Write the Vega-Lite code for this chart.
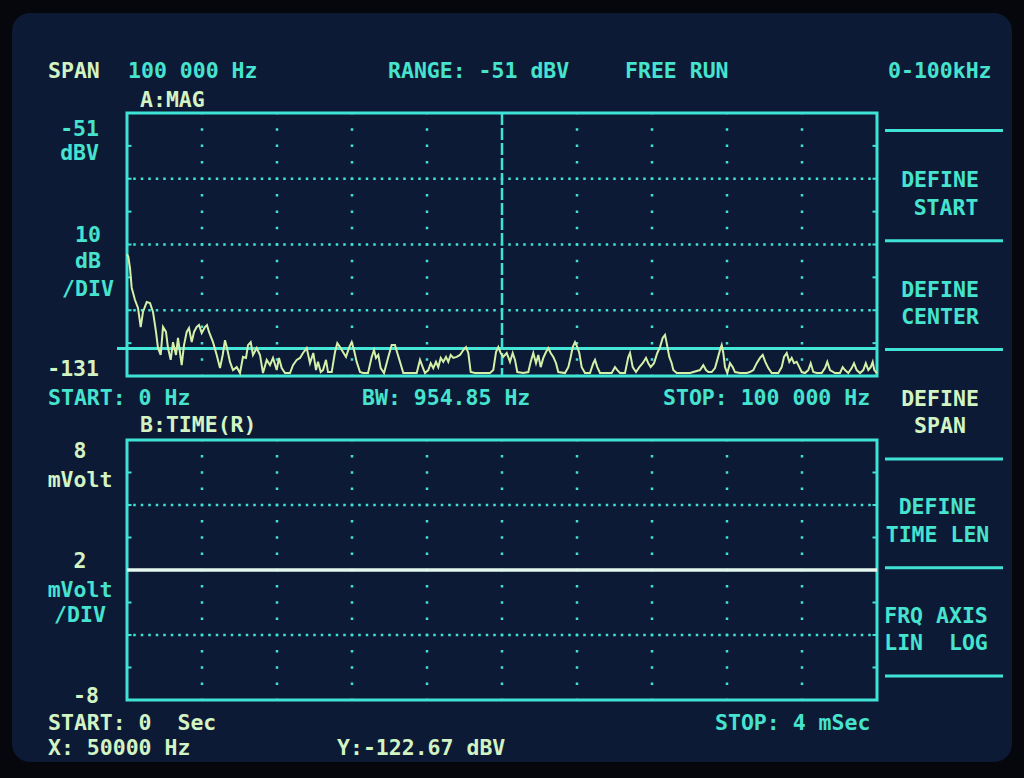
{
  "$schema": "https://vega.github.io/schema/vega-lite/v6.json",
  "width": 1024,
  "height": 778,
  "autosize": {"type": "fit", "contains": "padding"},
  "padding": 0,
  "background": "#05070c",
  "config": {"view": {"stroke": null}, "text": {"font": "DejaVu Sans Mono", "fontWeight": "bold", "fontSize": 21.5, "baseline": "alphabetic"}},
  "resolve": {"scale": {"x": "independent", "y": "independent"}},
  "layer": [
    {
      "layer": [
        {
          "data": {"values": [{}]},
          "mark": {"type": "rect", "fill": "#0d1a35", "cornerRadius": 18},
          "encoding": {
            "x": {"datum": -15333, "type": "quantitative", "scale": {"domain": [-16933.33, 119600], "nice": false, "zero": false}, "axis": null},
            "x2": {"datum": 118000},
            "y": {"datum": -20.58, "type": "quantitative", "scale": {"domain": [-253.28, -16.63], "nice": false, "zero": false}, "axis": null},
            "y2": {"datum": -248.41}
          }
        },
        {
          "data": {"values": [{"dB": -71}, {"dB": -91}, {"dB": -111}]},
          "mark": {"type": "rule", "color": "#3fe3d6", "strokeWidth": 2.5, "strokeDash": [2.5, 5], "strokeDashOffset": 1.25, "strokeCap": "butt"},
          "encoding": {
            "x": {"datum": 0, "type": "quantitative", "scale": {"domain": [-16933.33, 119600], "nice": false, "zero": false}, "axis": null},
            "x2": {"datum": 100000},
            "y": {"field": "dB", "type": "quantitative", "scale": {"domain": [-253.28, -16.63], "nice": false, "zero": false}, "axis": null}
          }
        },
        {
          "data": {"values": [{"f": 10000}, {"f": 20000}, {"f": 30000}, {"f": 40000}, {"f": 60000}, {"f": 70000}, {"f": 80000}, {"f": 90000}]},
          "mark": {"type": "rule", "color": "#3fe3d6", "strokeWidth": 2.5, "strokeDash": [2.5, 13.94], "strokeDashOffset": 1.25, "strokeCap": "butt"},
          "encoding": {
            "x": {"field": "f", "type": "quantitative", "scale": {"domain": [-16933.33, 119600], "nice": false, "zero": false}, "axis": null},
            "y": {"datum": -51, "type": "quantitative", "scale": {"domain": [-253.28, -16.63], "nice": false, "zero": false}, "axis": null},
            "y2": {"datum": -131}
          }
        },
        {
          "data": {"values": [{}]},
          "mark": {"type": "rule", "color": "#3fe3d6", "strokeWidth": 2.5, "strokeDash": [12, 3]},
          "encoding": {
            "x": {"datum": 50000, "type": "quantitative", "scale": {"domain": [-16933.33, 119600], "nice": false, "zero": false}, "axis": null},
            "y": {"datum": -51, "type": "quantitative", "scale": {"domain": [-253.28, -16.63], "nice": false, "zero": false}, "axis": null},
            "y2": {"datum": -131}
          }
        },
        {
          "data": {"values": [{"dB": -61}, {"dB": -71}, {"dB": -81}, {"dB": -91}, {"dB": -101}, {"dB": -111}, {"dB": -121}]},
          "mark": {"type": "rule", "color": "#3fe3d6", "strokeWidth": 2},
          "encoding": {
            "x": {"datum": 0, "type": "quantitative", "scale": {"domain": [-16933.33, 119600], "nice": false, "zero": false}, "axis": null},
            "x2": {"datum": 600},
            "y": {"field": "dB", "type": "quantitative", "scale": {"domain": [-253.28, -16.63], "nice": false, "zero": false}, "axis": null}
          }
        },
        {
          "data": {"values": [{"dB": -61}, {"dB": -71}, {"dB": -81}, {"dB": -91}, {"dB": -101}, {"dB": -111}, {"dB": -121}]},
          "mark": {"type": "rule", "color": "#3fe3d6", "strokeWidth": 2},
          "encoding": {
            "x": {"datum": 99400, "type": "quantitative", "scale": {"domain": [-16933.33, 119600], "nice": false, "zero": false}, "axis": null},
            "x2": {"datum": 100000},
            "y": {"field": "dB", "type": "quantitative", "scale": {"domain": [-253.28, -16.63], "nice": false, "zero": false}, "axis": null}
          }
        },
        {
          "data": {"values": [{}]},
          "mark": {"type": "rect", "fill": null, "stroke": "#3fe3d6", "strokeWidth": 3},
          "encoding": {
            "x": {"datum": 0, "type": "quantitative", "scale": {"domain": [-16933.33, 119600], "nice": false, "zero": false}, "axis": null},
            "x2": {"datum": 100000},
            "y": {"datum": -51, "type": "quantitative", "scale": {"domain": [-253.28, -16.63], "nice": false, "zero": false}, "axis": null},
            "y2": {"datum": -131}
          }
        },
        {
          "data": {"values": [{}]},
          "mark": {"type": "rule", "color": "#44e6d8", "strokeWidth": 3},
          "encoding": {
            "x": {"datum": -1333, "type": "quantitative", "scale": {"domain": [-16933.33, 119600], "nice": false, "zero": false}, "axis": null},
            "x2": {"datum": 100000},
            "y": {"datum": -122.67, "type": "quantitative", "scale": {"domain": [-253.28, -16.63], "nice": false, "zero": false}, "axis": null}
          }
        },
        {
          "data": {"values": [
            {"f": 0, "dB": -94.0}, {"f": 173, "dB": -94.7}, {"f": 400, "dB": -98.2}, {"f": 627, "dB": -104.2}, {"f": 1067, "dB": -107.9}, {"f": 1467, "dB": -110.3}, {"f": 1827, "dB": -116.1}, {"f": 2133, "dB": -111.5}, {"f": 2627, "dB": -108.5}, {"f": 3067, "dB": -108.8}, {"f": 3467, "dB": -111.5}, {"f": 3867, "dB": -117.6}, {"f": 4133, "dB": -122.5}, {"f": 4493, "dB": -124.6}, {"f": 4800, "dB": -116.1}, {"f": 5200, "dB": -117.6}, {"f": 5467, "dB": -122.5}, {"f": 5827, "dB": -126.1}, {"f": 6133, "dB": -120.7}, {"f": 6533, "dB": -124.6}, {"f": 6800, "dB": -119.4}, {"f": 7293, "dB": -127.7}, {"f": 7600, "dB": -121.6}, {"f": 7960, "dB": -117.6}, {"f": 8267, "dB": -116.4}, {"f": 8627, "dB": -120.7}, {"f": 8933, "dB": -117.6}, {"f": 9293, "dB": -116.1}, {"f": 9600, "dB": -115.5}, {"f": 9960, "dB": -117.9}, {"f": 10400, "dB": -116.1}, {"f": 10667, "dB": -115.5}, {"f": 10933, "dB": -117.6}, {"f": 11467, "dB": -120.7}, {"f": 11960, "dB": -124.6}, {"f": 12400, "dB": -128.6}, {"f": 12760, "dB": -124.6}, {"f": 13067, "dB": -120.1}, {"f": 13333, "dB": -122.5}, {"f": 13733, "dB": -126.7}, {"f": 14133, "dB": -129.2}, {"f": 14627, "dB": -128.3}, {"f": 15067, "dB": -130.1}, {"f": 15467, "dB": -125.2}, {"f": 15867, "dB": -125.5}, {"f": 16133, "dB": -121.6}, {"f": 16493, "dB": -120.7}, {"f": 16800, "dB": -124.6}, {"f": 17293, "dB": -122.5}, {"f": 17733, "dB": -124.6}, {"f": 18133, "dB": -130.1}, {"f": 18627, "dB": -126.1}, {"f": 19067, "dB": -127.7}, {"f": 19467, "dB": -125.5}, {"f": 19960, "dB": -129.2}, {"f": 20267, "dB": -125.5}, {"f": 20627, "dB": -128.6}, {"f": 21067, "dB": -130.1}, {"f": 21733, "dB": -130.1}, {"f": 22133, "dB": -127.7}, {"f": 22627, "dB": -126.1}, {"f": 23067, "dB": -125.5}, {"f": 23467, "dB": -124.0}, {"f": 23960, "dB": -122.5},
            {"f": 24400, "dB": -127.1}, {"f": 24840, "dB": -124.0}, {"f": 25200, "dB": -129.2}, {"f": 25467, "dB": -126.7}, {"f": 25827, "dB": -129.8}, {"f": 26133, "dB": -129.2}, {"f": 26533, "dB": -126.1}, {"f": 26800, "dB": -129.8}, {"f": 27293, "dB": -129.8}, {"f": 27733, "dB": -123.7}, {"f": 28040, "dB": -121.0}, {"f": 28400, "dB": -122.2}, {"f": 28800, "dB": -123.7}, {"f": 29200, "dB": -125.2}, {"f": 29640, "dB": -122.2}, {"f": 29960, "dB": -120.7}, {"f": 30267, "dB": -123.1}, {"f": 30627, "dB": -126.7}, {"f": 31067, "dB": -129.8}, {"f": 31467, "dB": -130.1}, {"f": 32133, "dB": -130.1}, {"f": 32627, "dB": -125.2}, {"f": 32933, "dB": -123.1}, {"f": 33200, "dB": -125.5}, {"f": 33507, "dB": -124.6}, {"f": 33827, "dB": -128.6}, {"f": 34267, "dB": -130.1}, {"f": 34840, "dB": -125.2}, {"f": 35293, "dB": -121.6}, {"f": 35733, "dB": -121.6}, {"f": 36040, "dB": -124.0}, {"f": 36400, "dB": -126.7}, {"f": 36840, "dB": -130.1}, {"f": 37733, "dB": -130.1}, {"f": 38627, "dB": -130.1}, {"f": 39067, "dB": -126.1}, {"f": 39427, "dB": -128.3}, {"f": 39733, "dB": -130.1}, {"f": 40173, "dB": -129.2}, {"f": 40493, "dB": -127.1}, {"f": 40840, "dB": -128.6}, {"f": 41200, "dB": -126.7}, {"f": 41507, "dB": -128.3}, {"f": 41827, "dB": -125.5}, {"f": 42173, "dB": -126.7}, {"f": 42533, "dB": -125.2}, {"f": 42840, "dB": -126.7}, {"f": 43160, "dB": -124.6}, {"f": 43507, "dB": -125.5}, {"f": 43960, "dB": -125.2}, {"f": 44400, "dB": -124.6}, {"f": 44840, "dB": -123.1}, {"f": 45200, "dB": -122.2}, {"f": 45507, "dB": -124.0}, {"f": 45827, "dB": -129.8}, {"f": 46400, "dB": -130.1}, {"f": 47507, "dB": -130.1}, {"f": 48400, "dB": -130.1}, {"f": 48840, "dB": -129.2}, {"f": 49200, "dB": -123.7}, {"f": 49507, "dB": -122.2}, {"f": 49827, "dB": -124.0}, {"f": 50173, "dB": -125.2}, {"f": 50627, "dB": -124.0}, {"f": 51067, "dB": -126.7},
            {"f": 51427, "dB": -124.0}, {"f": 51733, "dB": -126.1}, {"f": 52040, "dB": -129.8}, {"f": 52840, "dB": -130.1}, {"f": 53507, "dB": -129.8}, {"f": 53827, "dB": -126.7}, {"f": 54173, "dB": -124.0}, {"f": 54533, "dB": -127.1}, {"f": 54840, "dB": -124.6}, {"f": 55160, "dB": -128.3}, {"f": 55507, "dB": -125.5}, {"f": 55867, "dB": -123.7}, {"f": 56173, "dB": -122.5}, {"f": 56493, "dB": -124.0}, {"f": 56840, "dB": -125.2}, {"f": 57200, "dB": -127.1}, {"f": 57507, "dB": -129.8}, {"f": 58400, "dB": -130.1}, {"f": 58840, "dB": -128.3}, {"f": 59160, "dB": -125.2}, {"f": 59427, "dB": -122.2}, {"f": 59733, "dB": -120.7}, {"f": 60040, "dB": -122.2}, {"f": 60307, "dB": -124.0}, {"f": 60627, "dB": -128.3}, {"f": 61067, "dB": -130.1}, {"f": 61733, "dB": -130.1}, {"f": 62173, "dB": -127.1}, {"f": 62400, "dB": -126.1}, {"f": 62707, "dB": -128.3}, {"f": 63067, "dB": -130.1}, {"f": 64627, "dB": -130.1}, {"f": 65067, "dB": -128.3}, {"f": 65373, "dB": -129.2}, {"f": 65733, "dB": -130.1}, {"f": 66400, "dB": -130.1}, {"f": 66840, "dB": -125.2}, {"f": 67067, "dB": -124.0}, {"f": 67427, "dB": -128.3}, {"f": 67867, "dB": -129.8}, {"f": 68307, "dB": -128.3}, {"f": 68760, "dB": -127.1}, {"f": 69200, "dB": -125.5}, {"f": 69507, "dB": -127.1}, {"f": 69827, "dB": -128.3}, {"f": 70267, "dB": -127.1}, {"f": 70707, "dB": -124.0}, {"f": 71067, "dB": -122.2}, {"f": 71427, "dB": -119.4}, {"f": 71733, "dB": -118.5}, {"f": 71960, "dB": -121.0}, {"f": 72307, "dB": -125.2}, {"f": 72627, "dB": -127.1}, {"f": 72840, "dB": -129.2}, {"f": 73293, "dB": -130.1},
            {"f": 75067, "dB": -130.1}, {"f": 76400, "dB": -129.2}, {"f": 76840, "dB": -127.7}, {"f": 77200, "dB": -129.2}, {"f": 77507, "dB": -129.8}, {"f": 77960, "dB": -129.8}, {"f": 78400, "dB": -128.6}, {"f": 78707, "dB": -126.1}, {"f": 79067, "dB": -123.1}, {"f": 79293, "dB": -121.6}, {"f": 79507, "dB": -124.0}, {"f": 79733, "dB": -128.3}, {"f": 80040, "dB": -130.1}, {"f": 80400, "dB": -127.1}, {"f": 80760, "dB": -128.3}, {"f": 81067, "dB": -129.8}, {"f": 81733, "dB": -130.1}, {"f": 82627, "dB": -130.1}, {"f": 83067, "dB": -129.8}, {"f": 83507, "dB": -129.2}, {"f": 83960, "dB": -127.1}, {"f": 84400, "dB": -125.5}, {"f": 84760, "dB": -124.6}, {"f": 85107, "dB": -126.7}, {"f": 85507, "dB": -128.6}, {"f": 85960, "dB": -130.1}, {"f": 86840, "dB": -130.1}, {"f": 87293, "dB": -128.3}, {"f": 87600, "dB": -125.2}, {"f": 87960, "dB": -124.0}, {"f": 88307, "dB": -126.7}, {"f": 88627, "dB": -125.5}, {"f": 88933, "dB": -127.1}, {"f": 89293, "dB": -126.7}, {"f": 89640, "dB": -128.3}, {"f": 89960, "dB": -129.8}, {"f": 90400, "dB": -130.1}, {"f": 90840, "dB": -129.2}, {"f": 91160, "dB": -127.1}, {"f": 91507, "dB": -129.8}, {"f": 91960, "dB": -130.1}, {"f": 92627, "dB": -130.1}, {"f": 93067, "dB": -128.6}, {"f": 93373, "dB": -126.7}, {"f": 93733, "dB": -129.2}, {"f": 94400, "dB": -130.1}, {"f": 95067, "dB": -130.1}, {"f": 95427, "dB": -128.3}, {"f": 95733, "dB": -129.2}, {"f": 96173, "dB": -130.1}, {"f": 96627, "dB": -128.6}, {"f": 96933, "dB": -127.1}, {"f": 97293, "dB": -129.2}, {"f": 97733, "dB": -130.1}, {"f": 98173, "dB": -129.2}, {"f": 98507, "dB": -127.1}, {"f": 98840, "dB": -129.2}, {"f": 99160, "dB": -128.3}, {"f": 99427, "dB": -126.7}, {"f": 99640, "dB": -129.2}, {"f": 100000, "dB": -130.1}
          ]},
          "mark": {"type": "line", "color": "#d4f0a8", "strokeWidth": 2},
          "encoding": {
            "x": {"field": "f", "type": "quantitative", "scale": {"domain": [-16933.33, 119600], "nice": false, "zero": false}, "axis": null},
            "y": {"field": "dB", "type": "quantitative", "scale": {"domain": [-253.28, -16.63], "nice": false, "zero": false}, "axis": null}
          }
        },
        {
          "data": {"values": [{"dB": -56.35}, {"dB": -89.87}, {"dB": -122.94}, {"dB": -156.25}, {"dB": -189.31}, {"dB": -222.25}]},
          "mark": {"type": "rule", "color": "#3fe3d6", "strokeWidth": 3},
          "encoding": {
            "x": {"datum": 101067, "type": "quantitative", "scale": {"domain": [-16933.33, 119600], "nice": false, "zero": false}, "axis": null},
            "x2": {"datum": 116800},
            "y": {"field": "dB", "type": "quantitative", "scale": {"domain": [-253.28, -16.63], "nice": false, "zero": false}, "axis": null}
          }
        },
        {
          "data": {"values": [
            {"s": "100 000 Hz", "f": 133, "dB": -40.35},
            {"s": "RANGE: -51 dBV", "f": 34800, "dB": -40.35},
            {"s": "FREE RUN", "f": 66400, "dB": -40.35},
            {"s": "0-100kHz", "f": 101467, "dB": -40.35},
            {"s": "START: 0 Hz", "f": -10533, "dB": -139.82},
            {"s": "BW: 954.85 Hz", "f": 31333, "dB": -139.82},
            {"s": "STOP: 100 000 Hz", "f": 71467, "dB": -139.82}
          ]},
          "mark": {"type": "text", "align": "left", "color": "#46e3cf"},
          "encoding": {
            "x": {"field": "f", "type": "quantitative", "scale": {"domain": [-16933.33, 119600], "nice": false, "zero": false}, "axis": null},
            "y": {"field": "dB", "type": "quantitative", "scale": {"domain": [-253.28, -16.63], "nice": false, "zero": false}, "axis": null},
            "text": {"field": "s"}
          }
        },
        {
          "data": {"values": [
            {"s": "SPAN", "f": -10533, "dB": -40.35},
            {"s": "A:MAG", "f": 1733, "dB": -49.17}
          ]},
          "mark": {"type": "text", "align": "left", "color": "#d2f3c4"},
          "encoding": {
            "x": {"field": "f", "type": "quantitative", "scale": {"domain": [-16933.33, 119600], "nice": false, "zero": false}, "axis": null},
            "y": {"field": "dB", "type": "quantitative", "scale": {"domain": [-253.28, -16.63], "nice": false, "zero": false}, "axis": null},
            "text": {"field": "s"}
          }
        },
        {
          "data": {"values": [
            {"s": "-51", "f": -3733, "dB": -58.0},
            {"s": "dBV", "f": -3733, "dB": -65.3}
          ]},
          "mark": {"type": "text", "align": "right", "color": "#46e3cf"},
          "encoding": {
            "x": {"field": "f", "type": "quantitative", "scale": {"domain": [-16933.33, 119600], "nice": false, "zero": false}, "axis": null},
            "y": {"field": "dB", "type": "quantitative", "scale": {"domain": [-253.28, -16.63], "nice": false, "zero": false}, "axis": null},
            "text": {"field": "s"}
          }
        },
        {
          "data": {"values": [
            {"s": "-131", "f": -3733, "dB": -131.0}
          ]},
          "mark": {"type": "text", "align": "right", "color": "#d2f3c4"},
          "encoding": {
            "x": {"field": "f", "type": "quantitative", "scale": {"domain": [-16933.33, 119600], "nice": false, "zero": false}, "axis": null},
            "y": {"field": "dB", "type": "quantitative", "scale": {"domain": [-253.28, -16.63], "nice": false, "zero": false}, "axis": null},
            "text": {"field": "s"}
          }
        },
        {
          "data": {"values": [
            {"s": "10", "f": -5200, "dB": -90.24},
            {"s": "dB", "f": -5200, "dB": -98.15},
            {"s": "/DIV", "f": -5200, "dB": -106.67},
            {"s": "DEFINE", "f": 108400, "dB": -73.51},
            {"s": "START", "f": 109200, "dB": -82.03},
            {"s": "DEFINE", "f": 108400, "dB": -106.97},
            {"s": "CENTER", "f": 108400, "dB": -115.18},
            {"s": "DEFINE", "f": 108067, "dB": -172.98},
            {"s": "TIME LEN", "f": 108067, "dB": -181.49},
            {"s": "FRQ AXIS", "f": 107867, "dB": -206.13},
            {"s": "LIN\u00a0\u00a0LOG", "f": 107867, "dB": -214.34}
          ]},
          "mark": {"type": "text", "align": "center", "color": "#46e3cf"},
          "encoding": {
            "x": {"field": "f", "type": "quantitative", "scale": {"domain": [-16933.33, 119600], "nice": false, "zero": false}, "axis": null},
            "y": {"field": "dB", "type": "quantitative", "scale": {"domain": [-253.28, -16.63], "nice": false, "zero": false}, "axis": null},
            "text": {"field": "s"}
          }
        },
        {
          "data": {"values": [
            {"s": "DEFINE", "f": 108400, "dB": -140.12},
            {"s": "SPAN", "f": 108400, "dB": -148.34}
          ]},
          "mark": {"type": "text", "align": "center", "color": "#d2f3c4"},
          "encoding": {
            "x": {"field": "f", "type": "quantitative", "scale": {"domain": [-16933.33, 119600], "nice": false, "zero": false}, "axis": null},
            "y": {"field": "dB", "type": "quantitative", "scale": {"domain": [-253.28, -16.63], "nice": false, "zero": false}, "axis": null},
            "text": {"field": "s"}
          }
        }
      ]
    },
    {
      "layer": [
        {
          "data": {"values": [{"mV": 4}, {"mV": -4}]},
          "mark": {"type": "rule", "color": "#3fe3d6", "strokeWidth": 2.5, "strokeDash": [2.5, 5], "strokeDashOffset": 1.25, "strokeCap": "butt"},
          "encoding": {
            "x": {"datum": 0, "type": "quantitative", "scale": {"domain": [-0.67733, 4.784], "nice": false, "zero": false}, "axis": null},
            "x2": {"datum": 4},
            "y": {"field": "mV", "type": "quantitative", "scale": {"domain": [-12.8, 35.0769], "nice": false, "zero": false}, "axis": null}
          }
        },
        {
          "data": {"values": [{"t": 0.4}, {"t": 0.8}, {"t": 1.2}, {"t": 1.6}, {"t": 2.0}, {"t": 2.4}, {"t": 2.8}, {"t": 3.2}, {"t": 3.6}]},
          "mark": {"type": "rule", "color": "#3fe3d6", "strokeWidth": 2.5, "strokeDash": [2.5, 13.75], "strokeDashOffset": 1.25, "strokeCap": "butt"},
          "encoding": {
            "x": {"field": "t", "type": "quantitative", "scale": {"domain": [-0.67733, 4.784], "nice": false, "zero": false}, "axis": null},
            "y": {"datum": 8, "type": "quantitative", "scale": {"domain": [-12.8, 35.0769], "nice": false, "zero": false}, "axis": null},
            "y2": {"datum": -8}
          }
        },
        {
          "data": {"values": [{"mV": 6}, {"mV": 4}, {"mV": 2}, {"mV": 0}, {"mV": -2}, {"mV": -4}, {"mV": -6}]},
          "mark": {"type": "rule", "color": "#3fe3d6", "strokeWidth": 2},
          "encoding": {
            "x": {"datum": 0, "type": "quantitative", "scale": {"domain": [-0.67733, 4.784], "nice": false, "zero": false}, "axis": null},
            "x2": {"datum": 0.024},
            "y": {"field": "mV", "type": "quantitative", "scale": {"domain": [-12.8, 35.0769], "nice": false, "zero": false}, "axis": null}
          }
        },
        {
          "data": {"values": [{"mV": 6}, {"mV": 4}, {"mV": 2}, {"mV": 0}, {"mV": -2}, {"mV": -4}, {"mV": -6}]},
          "mark": {"type": "rule", "color": "#3fe3d6", "strokeWidth": 2},
          "encoding": {
            "x": {"datum": 3.976, "type": "quantitative", "scale": {"domain": [-0.67733, 4.784], "nice": false, "zero": false}, "axis": null},
            "x2": {"datum": 4},
            "y": {"field": "mV", "type": "quantitative", "scale": {"domain": [-12.8, 35.0769], "nice": false, "zero": false}, "axis": null}
          }
        },
        {
          "data": {"values": [{}]},
          "mark": {"type": "rect", "fill": null, "stroke": "#3fe3d6", "strokeWidth": 3},
          "encoding": {
            "x": {"datum": 0, "type": "quantitative", "scale": {"domain": [-0.67733, 4.784], "nice": false, "zero": false}, "axis": null},
            "x2": {"datum": 4},
            "y": {"datum": 8, "type": "quantitative", "scale": {"domain": [-12.8, 35.0769], "nice": false, "zero": false}, "axis": null},
            "y2": {"datum": -8}
          }
        },
        {
          "data": {"values": [{"t": 0, "mV": 0}, {"t": 4, "mV": 0}]},
          "mark": {"type": "line", "color": "#e4f8ee", "strokeWidth": 3.5},
          "encoding": {
            "x": {"field": "t", "type": "quantitative", "scale": {"domain": [-0.67733, 4.784], "nice": false, "zero": false}, "axis": null},
            "y": {"field": "mV", "type": "quantitative", "scale": {"domain": [-12.8, 35.0769], "nice": false, "zero": false}, "axis": null}
          }
        },
        {
          "data": {"values": [
            {"s": "B:TIME(R)", "t": 0.0693, "mV": 8.49},
            {"s": "START: 0\u00a0\u00a0Sec", "t": -0.4213, "mV": -9.85},
            {"s": "X: 50000 Hz", "t": -0.4213, "mV": -11.38},
            {"s": "Y:-122.67 dBV", "t": 1.12, "mV": -11.38}
          ]},
          "mark": {"type": "text", "align": "left", "color": "#d2f3c4"},
          "encoding": {
            "x": {"field": "t", "type": "quantitative", "scale": {"domain": [-0.67733, 4.784], "nice": false, "zero": false}, "axis": null},
            "y": {"field": "mV", "type": "quantitative", "scale": {"domain": [-12.8, 35.0769], "nice": false, "zero": false}, "axis": null},
            "text": {"field": "s"}
          }
        },
        {
          "data": {"values": [
            {"s": "STOP: 4 mSec", "t": 3.136, "mV": -9.85}
          ]},
          "mark": {"type": "text", "align": "left", "color": "#46e3cf"},
          "encoding": {
            "x": {"field": "t", "type": "quantitative", "scale": {"domain": [-0.67733, 4.784], "nice": false, "zero": false}, "axis": null},
            "y": {"field": "mV", "type": "quantitative", "scale": {"domain": [-12.8, 35.0769], "nice": false, "zero": false}, "axis": null},
            "text": {"field": "s"}
          }
        },
        {
          "data": {"values": [
            {"s": "8", "t": -0.2507, "mV": 6.89},
            {"s": "mVolt", "t": -0.2507, "mV": 5.11},
            {"s": "2", "t": -0.2507, "mV": 0.123}
          ]},
          "mark": {"type": "text", "align": "center", "color": "#d2f3c4"},
          "encoding": {
            "x": {"field": "t", "type": "quantitative", "scale": {"domain": [-0.67733, 4.784], "nice": false, "zero": false}, "axis": null},
            "y": {"field": "mV", "type": "quantitative", "scale": {"domain": [-12.8, 35.0769], "nice": false, "zero": false}, "axis": null},
            "text": {"field": "s"}
          }
        },
        {
          "data": {"values": [
            {"s": "mVolt", "t": -0.2507, "mV": -1.66},
            {"s": "/DIV", "t": -0.2507, "mV": -3.2}
          ]},
          "mark": {"type": "text", "align": "center", "color": "#46e3cf"},
          "encoding": {
            "x": {"field": "t", "type": "quantitative", "scale": {"domain": [-0.67733, 4.784], "nice": false, "zero": false}, "axis": null},
            "y": {"field": "mV", "type": "quantitative", "scale": {"domain": [-12.8, 35.0769], "nice": false, "zero": false}, "axis": null},
            "text": {"field": "s"}
          }
        },
        {
          "data": {"values": [
            {"s": "-8", "t": -0.1493, "mV": -8.18}
          ]},
          "mark": {"type": "text", "align": "right", "color": "#d2f3c4"},
          "encoding": {
            "x": {"field": "t", "type": "quantitative", "scale": {"domain": [-0.67733, 4.784], "nice": false, "zero": false}, "axis": null},
            "y": {"field": "mV", "type": "quantitative", "scale": {"domain": [-12.8, 35.0769], "nice": false, "zero": false}, "axis": null},
            "text": {"field": "s"}
          }
        }
      ]
    }
  ]
}
